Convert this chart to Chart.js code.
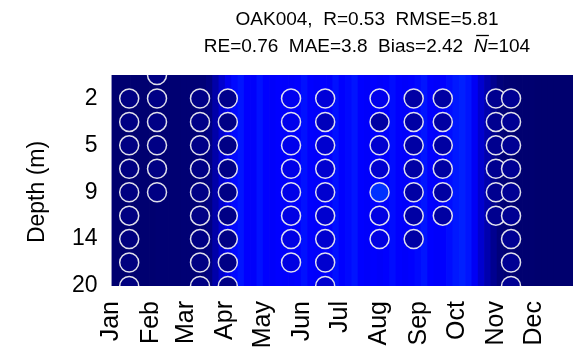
<!DOCTYPE html>
<html>
<head>
<meta charset="utf-8">
<script src="https://cdn.jsdelivr.net/npm/chart.js@4.4.1/dist/chart.umd.min.js"></script>
<style>
  html, body { margin: 0; padding: 0; background: #fff; }
  canvas { display: block; }
</style>
</head>
<body>
<canvas id="chart" width="584" height="364"></canvas>
<script>
// month ticks (day of year of the 1st)
const monthLabels = ['Jan', 'Feb', 'Mar', 'Apr', 'May', 'Jun', 'Jul', 'Aug', 'Sep', 'Oct', 'Nov', 'Dec'];
const monthStarts = [0, 31, 59, 90, 120, 151, 181, 212, 243, 273, 304, 334];

// depth axis: row index -> label
const depthTickRows = [1, 3, 5, 7, 9];
const depthTickLabels = ['2', '5', '9', '14', '20'];

// modelled field, 5-day bins starting at day 0 (colour level 0..1)
const bgStep = 5;
const bgLevel = [
  0.06, 0.06, 0.06, 0.06, 0.06, 0.06, 0.06, 0.07, 0.07, 0.07,
  0.07, 0.08, 0.08, 0.09, 0.10, 0.15, 0.35, 0.55, 0.72, 0.82,
  0.85, 0.80, 0.78, 0.84, 0.80, 0.78, 0.80, 0.79, 0.78, 0.80,
  0.84, 0.80, 0.78, 0.80, 0.79, 0.84, 0.80, 0.82, 0.85, 0.80,
  0.78, 0.80, 0.78, 0.80, 0.83, 0.80, 0.78, 0.80, 0.82, 0.85,
  0.80, 0.78, 0.80, 0.83, 0.86, 0.88, 0.85, 0.75, 0.55, 0.38,
  0.22, 0.12, 0.08, 0.07, 0.06, 0.06, 0.06, 0.05, 0.05, 0.05,
  0.05, 0.05, 0.05
];

// observations: sampling day, first depth row, colour level per row
const sampleDays = [14, 36, 70, 92, 142, 169, 212, 239, 262, 304, 316];
const sampleFirstRow = [1, 0, 1, 1, 1, 1, 1, 1, 1, 1, 1];
const obsLevel = [
  [0.16, 0.16, 0.16, 0.15, 0.15, 0.15, 0.14, 0.14, 0.14],
  [0.16, 0.17, 0.17, 0.17, 0.16, 0.16],
  [0.18, 0.18, 0.18, 0.17, 0.17, 0.17, 0.16, 0.16, 0.16],
  [0.20, 0.17, 0.17, 0.17, 0.17, 0.17, 0.17, 0.17, 0.17],
  [0.72, 0.70, 0.70, 0.68, 0.68, 0.66, 0.66, 0.65],
  [0.60, 0.45, 0.55, 0.55, 0.55, 0.55, 0.55, 0.55, 0.55],
  [0.70, 0.32, 0.55, 0.55, 0.92, 0.65, 0.65],
  [0.33, 0.33, 0.33, 0.33, 0.33, 0.33, 0.33],
  [0.32, 0.32, 0.32, 0.32, 0.32, 0.32],
  [0.22, 0.22, 0.22, 0.22, 0.22, 0.22],
  [0.24, 0.24, 0.24, 0.24, 0.24, 0.24, 0.24, 0.24, 0.24]
];

const titleLine1 = 'OAK004,  R=0.53  RMSE=5.81';
const titleLine2 = ['RE=0.76  MAE=3.8  Bias=2.42  ', 'N', '=104'];
const yTitle = 'Depth (m)';

const FONT = '"Liberation Sans", Arial, Helvetica, sans-serif';

const levelColor = (v) => {
  const b = Math.round(100 + 155 * Math.min(v / 0.8, 1));
  const g = Math.round(Math.max(0, (v - 0.8) / 0.2) * 80);
  return `rgb(0, ${g}, ${b})`;
};

const bgData = bgLevel.map((v, i) => ({ x: i * bgStep + bgStep / 2, y: [0, 9] }));
const bgColors = bgLevel.map(levelColor);

const obsData = [];
const obsColors = [];
sampleDays.forEach((d, c) => {
  obsLevel[c].forEach((v, k) => {
    obsData.push({ x: d, y: sampleFirstRow[c] + k });
    obsColors.push(levelColor(v));
  });
});

// two-line stats title (with italic N-bar) and the depth label
const textPlugin = {
  id: 'statsText',
  afterDraw(chart) {
    const ctx = chart.ctx;
    const cx = 367;
    const size = 19;
    const normal = size + 'px ' + FONT;
    const italic = 'italic ' + size + 'px ' + FONT;
    ctx.save();
    ctx.fillStyle = '#000';
    ctx.textBaseline = 'alphabetic';
    ctx.font = normal;
    ctx.textAlign = 'center';
    ctx.fillText(titleLine1, cx, 25);

    ctx.textAlign = 'left';
    const w0 = ctx.measureText(titleLine2[0]).width;
    const w2 = ctx.measureText(titleLine2[2]).width;
    ctx.font = italic;
    const w1 = ctx.measureText(titleLine2[1]).width;
    let x = cx - (w0 + w1 + w2) / 2;
    const y = 52;
    ctx.font = normal;
    ctx.fillText(titleLine2[0], x, y);
    x += w0;
    ctx.font = italic;
    ctx.fillText(titleLine2[1], x, y);
    ctx.strokeStyle = '#000';
    ctx.lineWidth = 1.3;
    ctx.beginPath();
    ctx.moveTo(x + 2.5, y - 16.5);
    ctx.lineTo(x + w1 + 1.5, y - 16.5);
    ctx.stroke();
    x += w1;
    ctx.font = normal;
    ctx.fillText(titleLine2[2], x, y);

    ctx.translate(38, 192);
    ctx.rotate(-Math.PI / 2);
    ctx.textAlign = 'center';
    ctx.textBaseline = 'middle';
    ctx.font = '23px ' + FONT;
    ctx.fillText(yTitle, 0, 0);
    ctx.restore();
  }
};

const ctx = document.getElementById('chart').getContext('2d');
const chart = new Chart(ctx, {
  data: {
    datasets: [{
      type: 'scatter',
      data: obsData,
      order: 1,
      clip: 0,
      pointRadius: 9.5,
      pointHoverRadius: 9.5,
      pointBackgroundColor: obsColors,
      pointBorderColor: 'rgba(235, 235, 240, 0.95)',
      pointBorderWidth: 1.5
    }, {
      type: 'bar',
      data: bgData,
      order: 2,
      clip: 0,
      backgroundColor: bgColors,
      borderWidth: 0,
      categoryPercentage: 1,
      barPercentage: 1.12,
      grouped: false
    }]
  },
  plugins: [textPlugin],
  options: {
    responsive: false,
    animation: false,
    events: [],
    layout: { padding: { top: 75, left: 0, right: 0, bottom: 0 } },
    plugins: {
      legend: { display: false },
      tooltip: { enabled: false }
    },
    scales: {
      x: {
        type: 'linear',
        min: 0,
        max: 365,
        offset: false,
        border: { display: false },
        grid: { display: false, drawTicks: false, offset: false },
        afterBuildTicks: (scale) => { scale.ticks = monthStarts.map(v => ({ value: v })); },
        afterFit: (scale) => {
          scale.height = 78;
          scale.paddingLeft = 0;
          scale.paddingRight = 0;
        },
        ticks: {
          autoSkip: false,
          maxRotation: 90,
          minRotation: 90,
          padding: 15,
          color: '#000',
          font: { family: FONT, size: 25 },
          callback: (v) => monthLabels[monthStarts.indexOf(v)]
        }
      },
      y: {
        type: 'linear',
        min: 0,
        max: 9,
        reverse: true,
        border: { display: false },
        grid: { display: false, drawTicks: false },
        afterBuildTicks: (scale) => { scale.ticks = depthTickRows.map(v => ({ value: v })); },
        afterFit: (scale) => {
          scale.width = 111.5;
          scale.paddingTop = 0;
          scale.paddingBottom = 0;
        },
        ticks: {
          padding: 14,
          color: '#000',
          font: { family: FONT, size: 23 },
          callback: (v) => depthTickLabels[depthTickRows.indexOf(v)]
        }
      }
    }
  }
});
</script>
</body>
</html>
